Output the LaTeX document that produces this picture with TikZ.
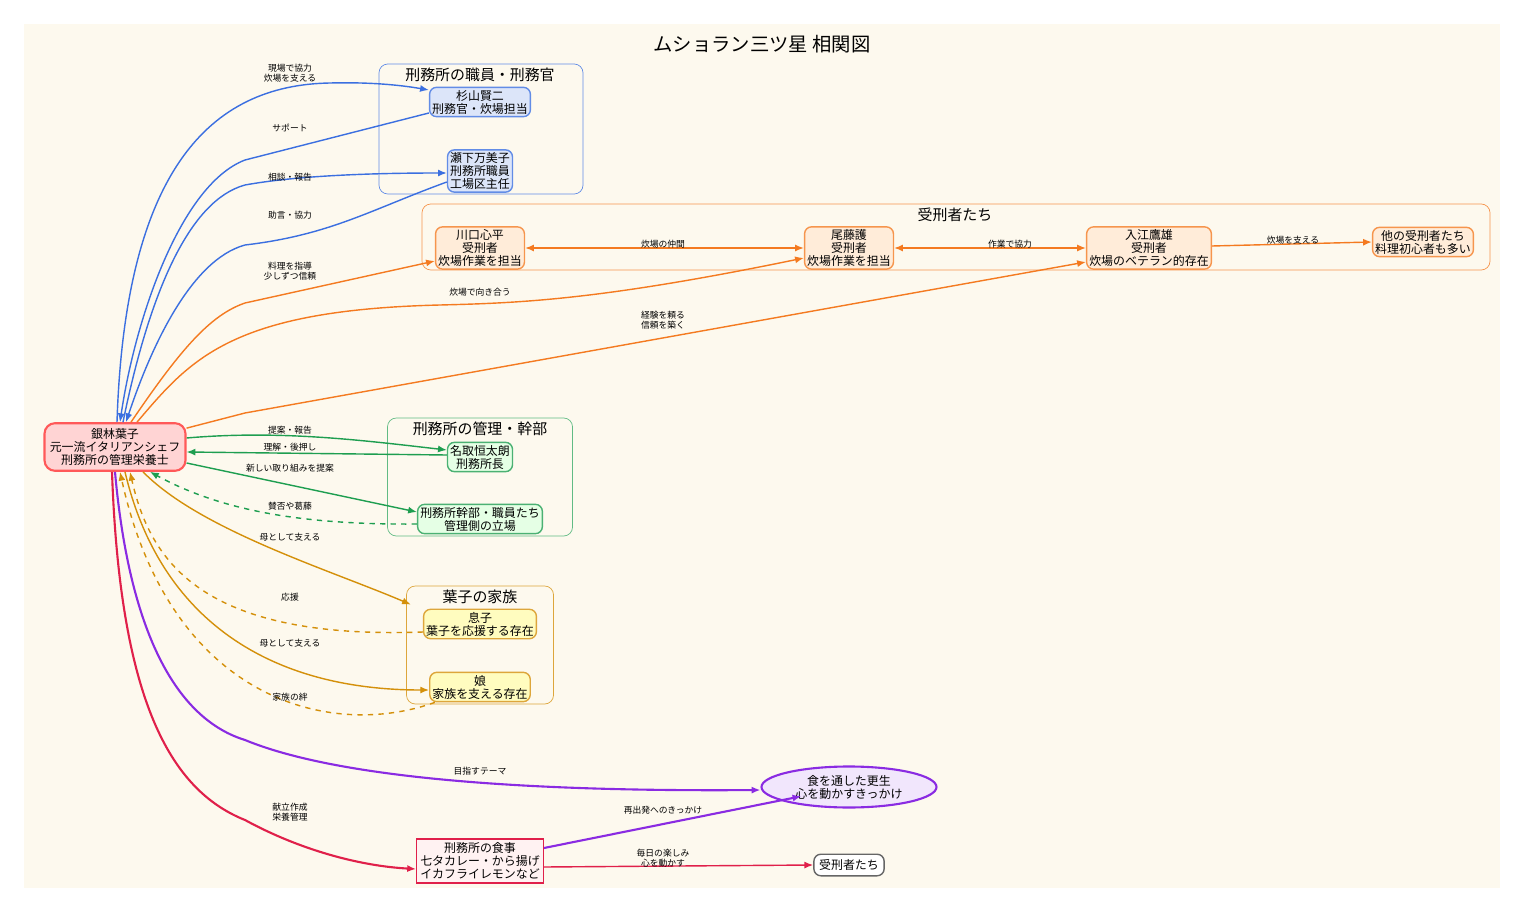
\documentclass[tikz,border=0pt]{standalone}
\usepackage{fontspec}
\setmainfont{Noto Sans CJK JP}
\usetikzlibrary{positioning,shapes.geometric,calc,arrows.meta}
\definecolor{bgcream}{HTML}{FDF9EE}
\definecolor{cblue}{HTML}{3B6FE0}
\definecolor{corange}{HTML}{F47A20}
\definecolor{cgreen}{HTML}{1E9E50}
\definecolor{cgold}{HTML}{D4900A}
\definecolor{cpurple}{HTML}{8A2BE2}
\definecolor{cred}{HTML}{E0204A}
\tikzset{
  >={Latex[length=5pt,width=4pt]},
  every node/.style={font=\fontsize{6.8}{7.4}\selectfont,align=center},
  box/.style={rectangle,rounded corners=4pt,inner sep=1.5pt,thick},
  bluebox/.style={box,draw=cblue!80,fill=cblue!18},
  orangebox/.style={box,draw=corange!80,fill=orange!15},
  greenbox/.style={box,draw=cgreen!80,fill=green!10},
  goldbox/.style={box,draw=cgold!80,fill=yellow!25},
  cluster/.style={rectangle,rounded corners=5pt,draw=#1,inner sep=0pt},
  ctitle/.style={font=\fontsize{8.5}{9}\selectfont},
  lbl/.style={font=\fontsize{5}{5.6}\selectfont,text=black},
  {edge/.style}={thick,draw,->},
}
\begin{document}
\begin{tikzpicture}[x=0.02cm,y=-0.02cm]
  \useasboundingbox (0,0) rectangle (1525,912);
  \fill[bgcream] (24,24) rectangle (1500,888);
  \node[font=\fontsize{11}{12}\selectfont] (title) at (762,44) {ムショラン三ツ星\ 相関図};
  % clusters
  \node[cluster=cblue!80,minimum width=204*0.02cm,minimum height=130*0.02cm] (staff) at (481,129) {};
  \node[ctitle] at (480,75) {刑務所の職員・刑務官};
  \node[cluster=corange!80,minimum width=1068*0.02cm,minimum height=66*0.02cm] (inmates) at (956,237) {};
  \node[ctitle] at (955,215) {受刑者たち};
  \node[cluster=cgreen!70,minimum width=185*0.02cm,minimum height=118*0.02cm] (mgmt) at (480,477) {};
  \node[ctitle] at (480,429) {刑務所の管理・幹部};
  \node[cluster=cgold!80,minimum width=147*0.02cm,minimum height=118*0.02cm] (family) at (480,645) {};
  \node[ctitle] at (480,597) {葉子の家族};
  % nodes
  \node[box,draw=red!65,fill=red!17,very thick,rounded corners=6pt,inner sep=3pt] (yoko) at (115,447)
    {銀林葉子\\元一流イタリアンシェフ\\刑務所の管理栄養士};
  \node[bluebox] (sugi) at (480,102) {杉山賢二\\刑務官・炊場担当};
  \node[bluebox] (seshita) at (480,171) {瀬下万美子\\刑務所職員\\工場区主任};
  \node[orangebox] (kawa) at (480,248) {川口心平\\受刑者\\炊場作業を担当};
  \node[orangebox] (obi) at (849,248) {尾藤護\\受刑者\\炊場作業を担当};
  \node[orangebox] (irie) at (1149,248) {入江鷹雄\\受刑者\\炊場のベテラン的存在};
  \node[orangebox] (others) at (1423,242) {他の受刑者たち\\料理初心者も多い};
  \node[greenbox] (nadori) at (480,457) {名取恒太朗\\刑務所長};
  \node[greenbox] (kanbu) at (480,519) {刑務所幹部・職員たち\\管理側の立場};
  \node[goldbox] (son) at (480,624) {息子\\葉子を応援する存在};
  \node[goldbox] (daughter) at (480,687) {娘\\家族を支える存在};
  \node[ellipse,draw=cpurple,fill=cpurple!12,very thick,inner sep=1pt,minimum width=175*0.02cm,minimum height=41*0.02cm] (theme) at (849,787) {食を通した更生\\心を動かすきっかけ};
  \node[rectangle,draw=cred,fill=red!5,thick,inner sep=2pt] (meal) at (480,861) {刑務所の食事\\七タカレー・から揚げ\\イカフライレモンなど};
  \node[box,draw=black!60,fill=white,inner sep=3pt] (inm2) at (849,865) {受刑者たち};
  % staff edges
  \draw[edge,cblue] ($(yoko.north)+(2,0)$) .. controls (125,170) and (210,85) .. (330,83) .. controls (370,82) and (400,85) .. ($(sugi.west)+(0,-12)$);
  \node[lbl] at (290,73) {現場で協力\\炊場を支える};
  \draw[edge,cblue] ($(sugi.west)+(0,11)$) -- (245,160) .. controls (180,185) and (135,320) .. ($(yoko.north)+(5,0)$);
  \node[lbl] at (290,128) {サポート};
  \draw[edge,cblue] ($(yoko.north)+(8,0)$) .. controls (150,290) and (190,200) .. (245,185) .. controls (300,175) and (380,173) .. ($(seshita.west)+(0,2)$);
  \node[lbl] at (290,177) {相談・報告};
  \draw[edge,cblue] ($(seshita.west)+(0,11)$) .. controls (370,210) and (330,235) .. (245,245) .. controls (190,260) and (150,350) .. ($(yoko.north)+(11,0)$);
  \node[lbl] at (290,215) {助言・協力};
  % inmate edges
  \draw[edge,corange] ($(yoko.north)+(16,0)$) .. controls (180,350) and (210,315) .. (245,303) -- ($(kawa.west)+(0,13)$);
  \node[lbl] at (290,271) {料理を指導\\少しずつ信頼};
  \draw[edge,corange] ($(yoko.north)+(22,0)$) .. controls (190,360) and (230,310) .. (440,305) .. controls (520,303) and (600,300) .. ($(obi.west)+(0,10)$);
  \node[lbl] at (480,292) {炊場で向き合う};
  \draw[edge,corange] ($(yoko.north east)+(0,6)$) -- (245,413) -- ($(irie.west)+(0,14)$);
  \node[lbl] at (663,320) {経験を頼る\\信頼を築く};
  \draw[corange,thick,<->] (kawa) -- (obi);
  \node[lbl] at (663,244) {炊場の仲間};
  \draw[corange,thick,<->] (obi) -- (irie);
  \node[lbl] at (1010,244) {作業で協力};
  \draw[edge,corange] ($(irie.east)+(0,-2)$) -- (others.west);
  \node[lbl] at (1293,240) {炊場を支える};
  % management edges
  \draw[edge,cgreen] ($(yoko.east)+(0,-9)$) .. controls (280,430) and (360,440) .. ($(nadori.west)+(0,-7)$);
  \node[lbl] at (290,430) {提案・報告};
  \draw[edge,cgreen] ($(nadori.west)+(0,-2)$) -- ($(yoko.east)+(0,5)$);
  \node[lbl] at (290,447) {理解・後押し};
  \draw[edge,cgreen] ($(yoko.east)+(0,16)$) -- ($(kanbu.west)+(0,-7)$);
  \node[lbl] at (290,468) {新しい取り組みを提案};
  \draw[edge,cgreen,dashed] ($(kanbu.west)+(0,5)$) .. controls (300,525) and (220,510) .. ($(yoko.south)+(35,0)$);
  \node[lbl] at (290,506) {賛否や葛藤};
  % family edges
  \draw[edge,cgold] ($(yoko.south)+(28,0)$) .. controls (200,530) and (330,570) .. ($(son.north west)+(-12,-4)$);
  \node[lbl] at (290,537) {母として支える};
  \draw[edge,cgold,dashed] ($(son.west)+(0,8)$) .. controls (200,640) and (150,560) .. ($(yoko.south)+(15,0)$);
  \node[lbl] at (290,597) {応援};
  \draw[edge,cgold] ($(yoko.south)+(10,0)$) .. controls (160,620) and (270,690) .. ($(daughter.west)+(0,3)$);
  \node[lbl] at (290,643) {母として支える};
  \draw[edge,cgold,dashed] ($(daughter.south)+(-45,0)$) .. controls (330,740) and (170,700) .. ($(yoko.south)+(5,0)$);
  \node[lbl] at (290,697) {家族の絆};
  % theme and meals
  \draw[edge,cpurple,very thick] (yoko.south) .. controls (130,640) and (180,720) .. (245,740) .. controls (330,775) and (500,792) .. ($(theme.west)+(0,3)$);
  \node[lbl] at (480,771) {目指すテーマ};
  \draw[edge,cpurple,very thick] ($(meal.east)+(0,-13)$) -- ($(theme.south west)+(15,-6)$);
  \node[lbl] at (663,810) {再出発へのきっかけ};
  \draw[edge,cred,very thick] ($(yoko.south)+(-3,0)$) .. controls (120,700) and (170,790) .. (245,820) .. controls (300,850) and (360,866) .. ($(meal.west)+(0,8)$);
  \node[lbl] at (290,812) {献立作成\\栄養管理};
  \draw[edge,cred] ($(meal.east)+(0,6)$) -- (inm2.west);
  \node[lbl] at (663,858) {毎日の楽しみ\\心を動かす};
\end{tikzpicture}
\end{document}
